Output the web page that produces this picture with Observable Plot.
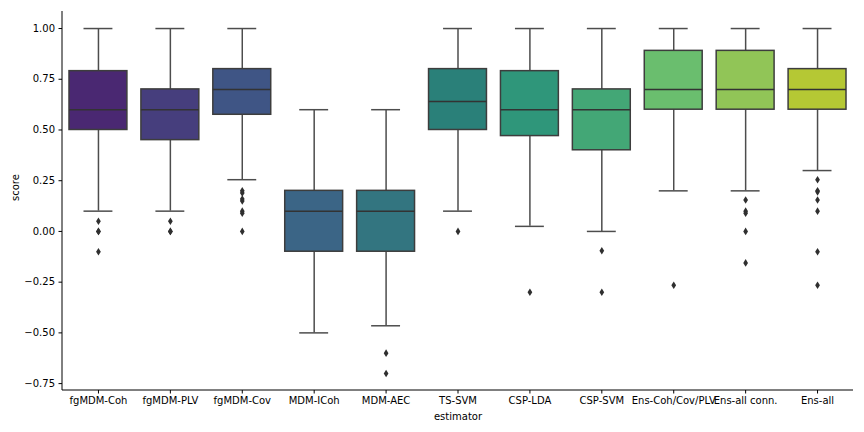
<!DOCTYPE html>
<html>
<head>
<meta charset="utf-8">
<script src="https://cdn.jsdelivr.net/npm/d3@7"></script>
<script src="https://cdn.jsdelivr.net/npm/@observablehq/plot@0.6"></script>
<style>
  html, body { margin: 0; padding: 0; background: #fff; }
  #chart svg { display: block; }
</style>
</head>
<body>
<div id="chart"></div>
<script>
const estimators = ["fgMDM-Coh", "fgMDM-PLV", "fgMDM-Cov", "MDM-ICoh", "MDM-AEC", "TS-SVM", "CSP-LDA", "CSP-SVM", "Ens-Coh/Cov/PLV", "Ens-all conn.", "Ens-all"];
const whiskerLow  = [0.10, 0.10, 0.255, -0.50, -0.465, 0.10, 0.025, 0.00, 0.20, 0.20, 0.30];
const q1          = [0.50, 0.45, 0.575, -0.10, -0.10, 0.50, 0.47, 0.40, 0.60, 0.60, 0.60];
const median      = [0.60, 0.60, 0.70, 0.10, 0.10, 0.64, 0.60, 0.60, 0.70, 0.70, 0.70];
const q3          = [0.79, 0.70, 0.80, 0.20, 0.20, 0.80, 0.79, 0.70, 0.89, 0.89, 0.80];
const whiskerHigh = [1.00, 1.00, 1.00, 0.60, 0.60, 1.00, 1.00, 1.00, 1.00, 1.00, 1.00];
const outliers = [
  [0.05, 0.0, 0.0, -0.10],
  [0.05, 0.0, 0.0],
  [0.20, 0.19, 0.16, 0.15, 0.10, 0.09, 0.0],
  [],
  [-0.60, -0.70],
  [0.0],
  [-0.30],
  [-0.095, -0.30],
  [-0.265],
  [0.155, 0.10, 0.09, 0.0, -0.155],
  [0.255, 0.20, 0.195, 0.155, 0.10, -0.10, -0.265]
];
const yTicks = [-0.75, -0.50, -0.25, 0.00, 0.25, 0.50, 0.75, 1.00];
const palette = ["#4a2872", "#463e7d", "#3f5585", "#3b6586", "#337580", "#2a8079", "#2f967a", "#43a776", "#6abe6e", "#91c557", "#b5c834"];

const rows = estimators.map((e, i) => ({
  estimator: e, lo: whiskerLow[i], q1: q1[i], med: median[i], q3: q3[i], hi: whiskerHigh[i]
}));
const fliers = estimators.flatMap((e, i) => outliers[i].map(v => ({estimator: e, score: v})));

const thinDiamond = {
  draw(context, size) {
    const hh = Math.sqrt(size) / 2;
    const hw = hh * 0.62;
    context.moveTo(0, -hh);
    context.lineTo(hw, 0);
    context.lineTo(0, hh);
    context.lineTo(-hw, 0);
    context.closePath();
  }
};

const W = 864, H = 432, mL = 62, mR = 11, mT = 11, mB = 42;
const lineColor = "#4d4d4d";

const chart = Plot.plot({
  width: W, height: H,
  marginLeft: mL, marginRight: mR, marginTop: mT, marginBottom: mB,
  style: {fontFamily: "DejaVu Sans", fontSize: "10px", color: "#000", background: "#fff"},
  x: {domain: estimators, padding: 0, round: false, label: null},
  y: {domain: [-0.784, 1.084], label: null},
  color: {domain: estimators, range: palette},
  marks: [
    Plot.axisY({ticks: yTicks, tickFormat: d3.format(".2f"), tickSize: 3.5, tickPadding: 4, label: null, fontSize: 10}),
    Plot.axisX({tickSize: 3.5, tickPadding: 3, label: null, fontSize: 10}),
    Plot.ruleX(rows, {x: "estimator", y1: "lo", y2: "q1", stroke: lineColor, strokeWidth: 1.5}),
    Plot.ruleX(rows, {x: "estimator", y1: "q3", y2: "hi", stroke: lineColor, strokeWidth: 1.5}),
    Plot.tickY(rows, {x: "estimator", y: "lo", stroke: lineColor, strokeWidth: 1.5, insetLeft: 21.5, insetRight: 21.5}),
    Plot.tickY(rows, {x: "estimator", y: "hi", stroke: lineColor, strokeWidth: 1.5, insetLeft: 21.5, insetRight: 21.5}),
    Plot.barY(rows, {x: "estimator", y1: "q1", y2: "q3", fill: "estimator", stroke: "#3d3d3d", strokeWidth: 1.5, insetLeft: 7, insetRight: 7}),
    Plot.tickY(rows, {x: "estimator", y: "med", stroke: "#333", strokeWidth: 1.5, insetLeft: 7, insetRight: 7}),
    Plot.dot(fliers, {x: "estimator", y: "score", symbol: thinDiamond, r: 4.3, fill: "#2f2f2f", stroke: "none"}),
    Plot.text(["score"], {frameAnchor: "left", dx: -47, rotate: -90, fontSize: 10, fill: "#000"}),
    Plot.text(["estimator"], {frameAnchor: "bottom", dy: 29, fontSize: 10, fill: "#000"})
  ]
});

const svg = d3.select(chart);
svg.append("line").attr("x1", mL).attr("x2", mL).attr("y1", mT).attr("y2", H - mB)
  .attr("stroke", "#000").attr("stroke-width", 1);
svg.append("line").attr("x1", mL).attr("x2", W - mR).attr("y1", H - mB).attr("y2", H - mB)
  .attr("stroke", "#000").attr("stroke-width", 1);
document.getElementById("chart").append(chart);
</script>
</body>
</html>
